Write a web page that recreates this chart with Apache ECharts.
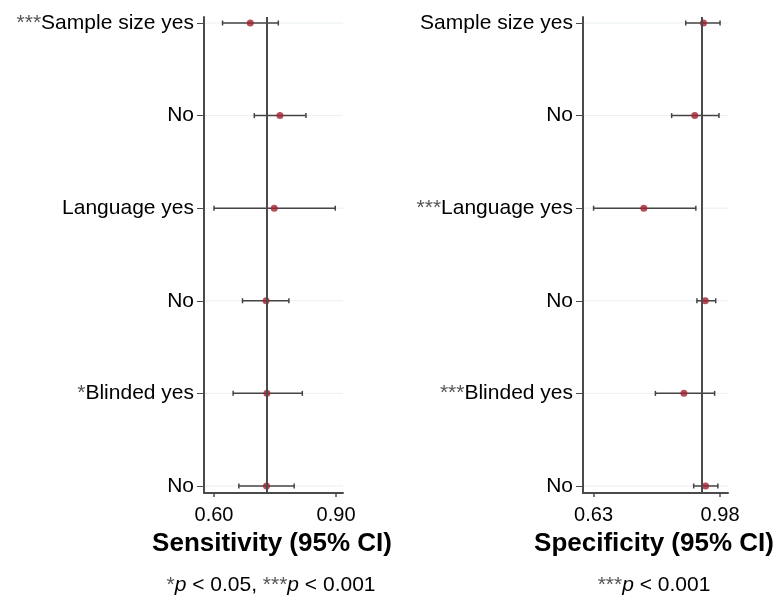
<!DOCTYPE html>
<html>
<head>
<meta charset="utf-8">
<script src="https://cdn.jsdelivr.net/npm/echarts@6/dist/echarts.min.js"></script>
<style>
html, body { margin: 0; padding: 0; background: #fff; }
#main { width: 780px; height: 598px; }
</style>
</head>
<body>
<div id="main"></div>
<script>
var myChart = echarts.init(document.getElementById('main'));

// rows, top to bottom
var categories = ['Sample size yes', 'No', 'Language yes', 'No', 'Blinded yes', 'No'];
var senStars = ['***', '', '', '', '*', ''];
var speStars = ['', '', '***', '', '***', ''];

// sensitivity (95% CI)
var senEst = [0.689, 0.762, 0.748, 0.728, 0.730, 0.729];
var senLow = [0.621, 0.699, 0.600, 0.670, 0.647, 0.661];
var senHigh = [0.758, 0.826, 0.898, 0.784, 0.817, 0.797];
var senPooled = 0.73;
var senTicks = [0.60, 0.90];

// specificity (95% CI)
var speEst = [0.934, 0.910, 0.769, 0.939, 0.880, 0.940];
var speLow = [0.885, 0.846, 0.630, 0.916, 0.801, 0.907];
var speHigh = [0.980, 0.977, 0.913, 0.968, 0.965, 0.974];
var spePooled = 0.93;
var speTicks = [0.63, 0.98];

var rowIdx = categories.map(function (c, i) { return i; });
var font = "'Liberation Sans', Arial, sans-serif";
var axisColor = '#4a4a4a';
var dotColor = '#a3222f';

function buildRows(low, high) {
	var out = [];
	for (let i = 0; i < categories.length; i++) {
		out.push([i, low[i], high[i]]);
	}
	return out;
}
function buildDots(est) {
	var out = [];
	for (let i = 0; i < categories.length; i++) {
		out.push([est[i], i]);
	}
	return out;
}

function renderBar(params, api) {
	var i = api.value(0);
	var p1 = api.coord([api.value(1), i]);
	var p2 = api.coord([api.value(2), i]);
	var cs = params.coordSys;
	var h = 2.5;
	var st = { stroke: '#444', lineWidth: 1.5 };
	return {
		type: 'group',
		children: [
			{ type: 'line', z2: 0, shape: { x1: cs.x + 1, y1: p1[1], x2: cs.x + cs.width, y2: p1[1] }, style: { stroke: '#e9f0f0', lineWidth: 1 } },
			{ type: 'line', z2: 2, shape: { x1: p1[0], y1: p1[1], x2: p2[0], y2: p2[1] }, style: st },
			{ type: 'line', z2: 2, shape: { x1: p1[0], y1: p1[1] - h, x2: p1[0], y2: p1[1] + h }, style: st },
			{ type: 'line', z2: 2, shape: { x1: p2[0], y1: p2[1] - h, x2: p2[0], y2: p2[1] + h }, style: st }
		]
	};
}

function yAxisFor(idx, stars) {
	return {
		type: 'value',
		gridIndex: idx,
		inverse: true,
		min: -0.065,
		max: 5.076,
		axisLine: { show: true, onZero: false, lineStyle: { color: axisColor, width: 2 } },
		axisTick: { show: true, length: 7, customValues: rowIdx, lineStyle: { color: axisColor, width: 1 } },
		splitLine: { show: false },
		axisLabel: {
			customValues: rowIdx,
			margin: 10,
			fontFamily: font,
			fontSize: 21,
			color: '#000',
			formatter: function (v) {
				var s = stars[v] ? '{a|' + stars[v] + '}' : '';
				return s + categories[v];
			},
			rich: {
				a: { fontFamily: font, fontSize: 21, color: '#555', fontWeight: 'lighter' }
			}
		}
	};
}

function xAxisFor(idx, min, max, ticks) {
	return {
		type: 'value',
		gridIndex: idx,
		min: min,
		max: max,
		axisLine: { show: true, onZero: false, lineStyle: { color: axisColor, width: 2 } },
		axisTick: { show: true, length: 4, inside: false, customValues: ticks, lineStyle: { color: axisColor, width: 1.5 } },
		splitLine: { show: false },
		axisLabel: {
			customValues: ticks,
			margin: 12,
			fontFamily: font,
			fontSize: 20,
			color: '#000',
			formatter: function (v) { return v.toFixed(2); }
		}
	};
}

option = {
	animation: false,
	backgroundColor: '#fff',
	grid: [
		{ left: 204, right: 437, top: 17, bottom: 105 },
		{ left: 583, right: 52, top: 17, bottom: 105 }
	],
	xAxis: [
		xAxisFor(0, 0.5754, 0.917, senTicks),
		xAxisFor(1, 0.6007, 1.002, speTicks)
	],
	yAxis: [
		yAxisFor(0, senStars),
		yAxisFor(1, speStars)
	],
	series: [{
		type: 'custom',
		xAxisIndex: 0,
		yAxisIndex: 0,
		renderItem: renderBar,
		encode: { x: [1, 2], y: 0 },
		data: buildRows(senLow, senHigh),
		silent: true,
		z: 2
	}, {
		type: 'scatter',
		xAxisIndex: 0,
		yAxisIndex: 0,
		symbolSize: 7,
		itemStyle: { color: dotColor },
		data: buildDots(senEst),
		z: 4,
		markLine: {
			silent: true,
			symbol: 'none',
			label: { show: false },
			lineStyle: { color: axisColor, width: 2, type: 'solid' },
			data: [{ xAxis: senPooled }]
		}
	}, {
		type: 'custom',
		xAxisIndex: 1,
		yAxisIndex: 1,
		renderItem: renderBar,
		encode: { x: [1, 2], y: 0 },
		data: buildRows(speLow, speHigh),
		silent: true,
		z: 2
	}, {
		type: 'scatter',
		xAxisIndex: 1,
		yAxisIndex: 1,
		symbolSize: 7,
		itemStyle: { color: dotColor },
		data: buildDots(speEst),
		z: 4,
		markLine: {
			silent: true,
			symbol: 'none',
			label: { show: false },
			lineStyle: { color: axisColor, width: 2, type: 'solid' },
			data: [{ xAxis: spePooled }]
		}
	}],
	graphic: [{
		type: 'text',
		x: 272, y: 544,
		style: { text: 'Sensitivity (95% CI)', fontFamily: font, fontSize: 26, fontWeight: 'bold', fill: '#000', align: 'center', verticalAlign: 'middle' }
	}, {
		type: 'text',
		x: 654, y: 544,
		style: { text: 'Specificity (95% CI)', fontFamily: font, fontSize: 26, fontWeight: 'bold', fill: '#000', align: 'center', verticalAlign: 'middle' }
	}, {
		type: 'text',
		x: 271, y: 585,
		style: {
			text: '{a|*}{i|p} < 0.05, {a|***}{i|p} < 0.001',
			fontFamily: font, fontSize: 21, fill: '#000', align: 'center', verticalAlign: 'middle',
			rich: {
				a: { fontFamily: font, fontSize: 21, fill: '#555', fontWeight: 'lighter' },
				i: { fontFamily: font, fontSize: 21, fill: '#000', fontStyle: 'italic' }
			}
		}
	}, {
		type: 'text',
		x: 654, y: 585,
		style: {
			text: '{a|***}{i|p} < 0.001',
			fontFamily: font, fontSize: 21, fill: '#000', align: 'center', verticalAlign: 'middle',
			rich: {
				a: { fontFamily: font, fontSize: 21, fill: '#555', fontWeight: 'lighter' },
				i: { fontFamily: font, fontSize: 21, fill: '#000', fontStyle: 'italic' }
			}
		}
	}]
};

myChart.setOption(option);
</script>
</body>
</html>
